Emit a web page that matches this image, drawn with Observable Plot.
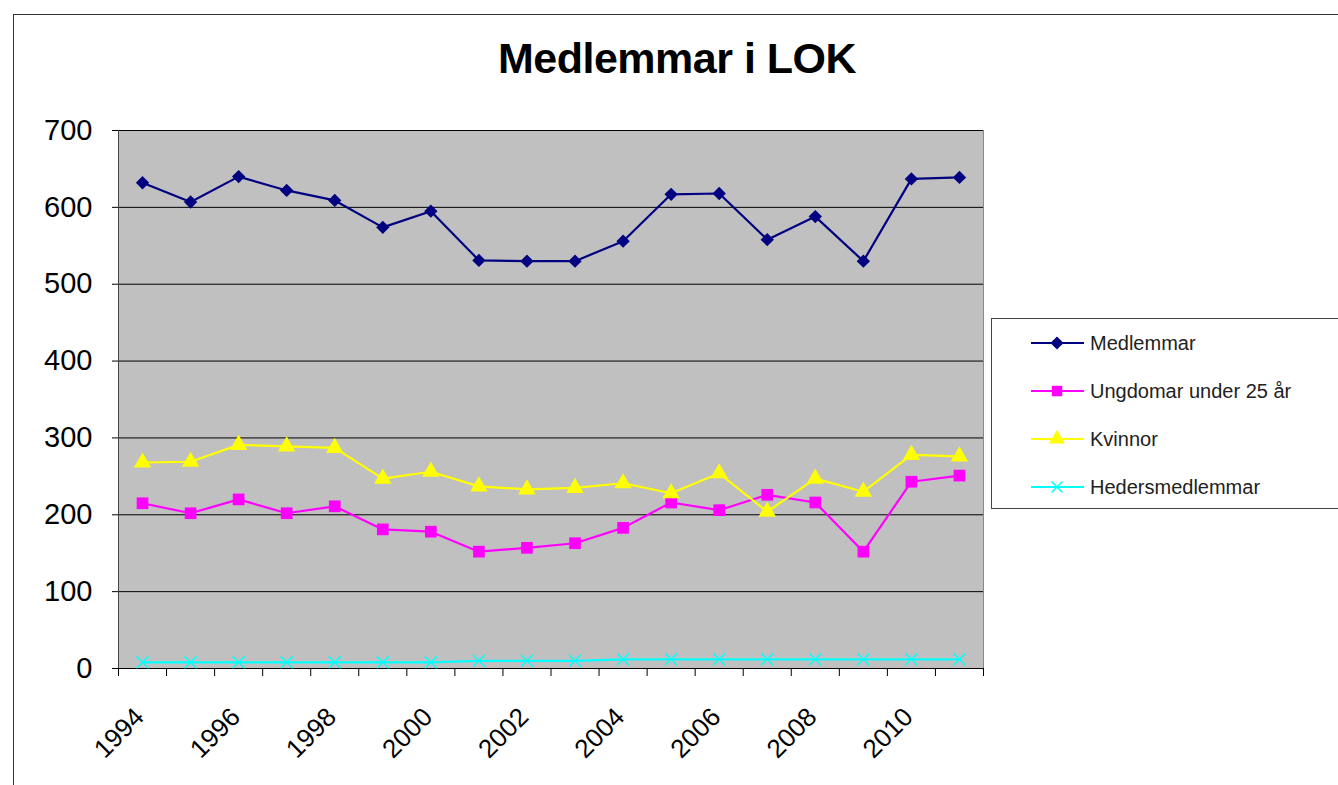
<!DOCTYPE html>
<html>
<head>
<meta charset="utf-8">
<script src="https://cdn.jsdelivr.net/npm/d3@7"></script>
<script src="https://cdn.jsdelivr.net/npm/@observablehq/plot@0.6"></script>
<style>
  html, body { margin: 0; padding: 0; background: #fff; }
  #wrap { position: relative; width: 1338px; height: 785px; overflow: hidden; background: #fff;
          font-family: "Liberation Sans", Arial, sans-serif; }
  #border { position: absolute; left: 13px; top: 14px; width: 1400px; height: 800px;
            border-left: 1px solid #333; border-top: 1px solid #333; }
  #title { position: absolute; left: 0; width: 1354px; top: 34px; text-align: center;
           font-size: 43px; font-weight: bold; color: #000; letter-spacing: -0.5px; }
  #chart { position: absolute; left: 0; top: 0; }
  #legend { position: absolute; left: 991px; top: 318px; width: 400px; height: 189px;
            border: 1px solid #444; background: #fff; }
  .item { position: absolute; left: 39px; height: 24px; display: flex; align-items: center; }
  .item span { font-size: 20px; color: #222; margin-left: 6px; }
</style>
</head>
<body>
<div id="wrap">
  <div id="border"></div>
  <div id="chart"></div>
  <div id="title">Medlemmar i LOK</div>
  <div id="legend"></div>
</div>
<script>
const years = [1994,1995,1996,1997,1998,1999,2000,2001,2002,2003,2004,2005,2006,2007,2008,2009,2010,2011];
const medlemmar = [632,607,640,622,609,574,595,531,530,530,556,617,618,558,588,530,637,639];
const ungdomar  = [215,202,220,202,211,181,178,152,157,163,183,216,206,226,216,152,243,251];
const kvinnor   = [268,269,291,289,287,247,256,237,233,235,241,228,254,204,247,230,278,276];
const heders    = [8,8,8,8,8,8,8,10,10,10,12,12,12,12,12,12,12,12];
const seriesNames = ["Medlemmar","Ungdomar under 25 år","Kvinnor","Hedersmedlemmar"];
const seriesColors = ["#000080","#FF00FF","#FFFF00","#00FFFF"];
const yTicks = [0,100,200,300,400,500,600,700];
const xLabelYears = [1994,1996,1998,2000,2002,2004,2006,2008,2010];

const seriesValues = [medlemmar, ungdomar, kvinnor, heders];
const data = [];
seriesNames.forEach((s, i) => years.forEach((y, j) => data.push({series: s, year: y, value: seriesValues[i][j]})));
const boundaries = years.map(y => y - 0.5).concat([years[years.length-1] + 0.5]);

const color = {domain: seriesNames, range: seriesColors};
const dotStyle = {
  "Medlemmar": {symbol: d3.symbolDiamond2, r: 6, fill: "#000080"},
  "Ungdomar under 25 år": {symbol: d3.symbolSquare, r: 6.6, fill: "#FF00FF"},
  "Kvinnor": {symbol: d3.symbolTriangle, r: 6.5, fill: "#FFFF00"},
};

const chart = Plot.plot({
  width: 1338, height: 785,
  marginLeft: 118, marginRight: 355, marginTop: 130, marginBottom: 117,
  style: {background: "transparent", fontFamily: "Liberation Sans, Arial, sans-serif", color: "#000"},
  x: {domain: [boundaries[0], boundaries[boundaries.length-1]], axis: null},
  y: {domain: [0, 700], axis: null},
  color: color,
  marks: [
    Plot.frame({fill: "#C0C0C0", stroke: "#888"}),
    Plot.ruleY(yTicks, {stroke: "#000", strokeWidth: 1}),
    Plot.ruleX([boundaries[0]], {stroke: "#444"}),
    Plot.axisY({ticks: yTicks, tickSize: 6, tickPadding: 20, fontSize: 29, tickFormat: d => String(d), stroke: "#000", label: null}),
    Plot.axisX({ticks: boundaries, tickSize: 8, tickFormat: () => "", stroke: "#000", label: null}),
    Plot.text(xLabelYears, {x: d => d, frameAnchor: "bottom", text: d => String(d), rotate: -45,
      textAnchor: "end", dy: 50, dx: 3, fontSize: 26, fill: "#000"}),
    Plot.line(data, {x: "year", y: "value", z: "series", stroke: "series", strokeWidth: 2.2}),
    ...Object.entries(dotStyle).map(([s, st]) =>
      Plot.dot(data.filter(d => d.series === s), {x: "year", y: "value", symbol: st.symbol, r: st.r, fill: st.fill, stroke: "none"})),
    Plot.dot(data.filter(d => d.series === "Hedersmedlemmar"), {x: "year", y: "value", symbol: "times", r: 5.5, stroke: "#00FFFF", strokeWidth: 1.5, fill: "none"})
  ]
});
document.getElementById("chart").appendChild(chart);

// Legend
const legend = document.getElementById("legend");
const symbolTypes = [d3.symbolDiamond2, d3.symbolSquare, d3.symbolTriangle, d3.symbolTimes || d3.symbolX];
seriesNames.forEach((s, i) => {
  const item = document.createElement("div");
  item.className = "item";
  item.style.top = (12 + i * 48) + "px";
  const svg = d3.create("svg").attr("width", 53).attr("height", 24);
  svg.append("line").attr("x1", 0).attr("x2", 53).attr("y1", 12).attr("y2", 12)
     .attr("stroke", seriesColors[i]).attr("stroke-width", 2.2);
  const p = svg.append("path").attr("transform", "translate(26,12)")
     .attr("d", d3.symbol(symbolTypes[i], i === 3 ? 80 : 110)());
  if (i === 3) p.attr("fill", "none").attr("stroke", seriesColors[i]).attr("stroke-width", 1.5);
  else p.attr("fill", seriesColors[i]);
  item.appendChild(svg.node());
  const t = document.createElement("span");
  t.textContent = s;
  item.appendChild(t);
  legend.appendChild(item);
});
</script>
</body>
</html>
